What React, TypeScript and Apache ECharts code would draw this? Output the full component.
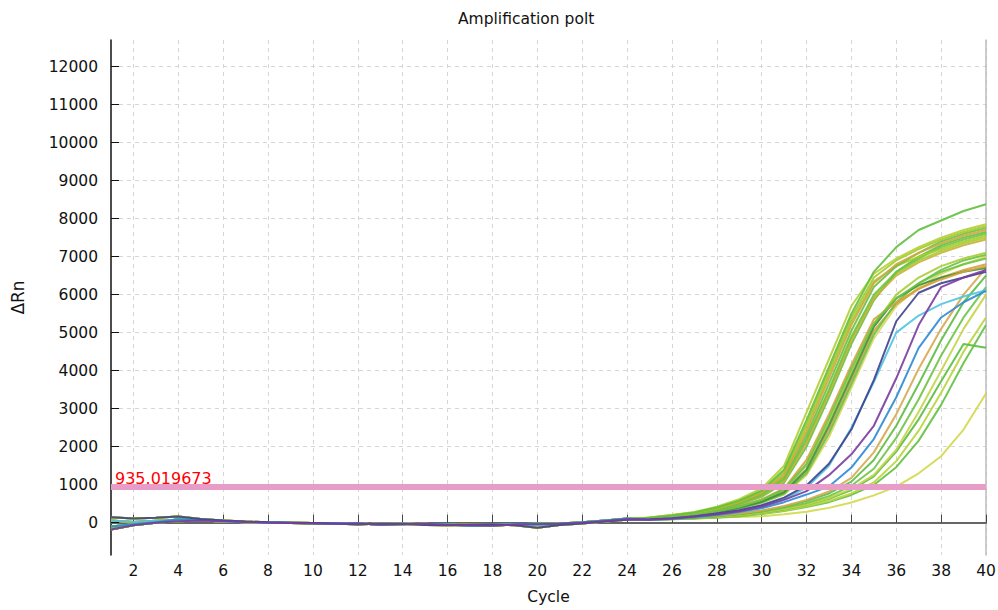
import React, { useEffect, useRef } from "react";
import * as echarts from "echarts";

const TITLE = "Amplification polt";
const X_NAME = "Cycle";
const Y_NAME = "ΔRn";
const THRESHOLD = 935.019673;
const THRESHOLD_LABEL = "935.019673";

const CYCLES = [1, 2, 3, 4, 5, 6, 7, 8, 9, 10, 11, 12, 13, 14, 15, 16, 17, 18, 19, 20, 21, 22, 23, 24, 25, 26, 27, 28, 29, 30, 31, 32, 33, 34, 35, 36, 37, 38, 39, 40];
const X_TICKS = [2, 4, 6, 8, 10, 12, 14, 16, 18, 20, 22, 24, 26, 28, 30, 32, 34, 36, 38, 40];
const Y_TICKS = [0, 1000, 2000, 3000, 4000, 5000, 6000, 7000, 8000, 9000, 10000, 11000, 12000];
const Y_MIN = -850;
const Y_MAX = 12700;

// baseline noise, cycles 1..24
const BASE_1 = [140, 110, 130, 160, 100, 60, 30, 10, 0, -10, -20, -50, -20, -30, -60, -70, -50, -40, -70, -130, -60, -20, 30, 80];
const BASE_2 = [-180, -70, 0, 40, 60, 40, 20, 0, -10, -20, -30, -20, -50, -40, -30, -60, -70, -80, -50, -40, -30, 0, 40, 90];
const BASE_3 = [60, 20, 50, 70, 60, 30, 10, 0, 0, -10, -10, -30, -40, -20, -40, -60, -70, -50, -40, -60, -40, -10, 50, 100];
const BASE_4 = [-100, -40, 10, 90, 80, 50, 20, 10, 0, -5, -20, -10, -60, -30, -40, -40, -80, -60, -40, -30, -20, 10, 60, 110];
const BASELINES = [BASE_1, BASE_2, BASE_3, BASE_4];

// cycles 25..40
const A1 = [130, 190, 270, 400, 580, 840, 1400, 2700, 4100, 5500, 6600, 7250, 7700, 7950, 8200, 8380];
const A2 = [140, 200, 280, 420, 620, 900, 1500, 2900, 4300, 5700, 6550, 6950, 7250, 7500, 7700, 7850];
const A3 = [120, 180, 260, 380, 560, 820, 1350, 2600, 4000, 5400, 6450, 6900, 7200, 7450, 7650, 7800];
const A4 = [130, 190, 260, 370, 540, 780, 1250, 2400, 3800, 5200, 6300, 6800, 7100, 7350, 7550, 7700];
const A5 = [120, 170, 240, 350, 520, 760, 1200, 2300, 3650, 5050, 6200, 6750, 7100, 7400, 7600, 7750];
const A6 = [140, 200, 270, 380, 550, 800, 1300, 2500, 3900, 5300, 6350, 6750, 7000, 7200, 7400, 7550];
const A7 = [110, 160, 230, 340, 500, 720, 1150, 2200, 3500, 4900, 6000, 6600, 6950, 7250, 7450, 7600];
const A8 = [120, 170, 240, 340, 490, 700, 1100, 2100, 3400, 4800, 5900, 6500, 6850, 7100, 7300, 7450];
const A9 = [100, 150, 220, 320, 470, 680, 1050, 2000, 3300, 4700, 5850, 6600, 7000, 7300, 7500, 7650];
const A10 = [130, 180, 250, 350, 500, 720, 1120, 2150, 3450, 4850, 5950, 6550, 6900, 7150, 7350, 7500];

const B1 = [110, 150, 210, 300, 420, 600, 880, 1550, 2750, 4050, 5250, 5900, 6300, 6600, 6800, 6950];
const B2 = [120, 160, 220, 310, 430, 610, 900, 1650, 2850, 4150, 5350, 5800, 6150, 6400, 6600, 6750];
const B3 = [100, 140, 200, 280, 390, 550, 800, 1400, 2550, 3850, 5150, 5900, 6250, 6450, 6600, 6700];
const B4 = [110, 150, 210, 290, 410, 580, 840, 1500, 2650, 3950, 5200, 6000, 6450, 6750, 6950, 7100];
const B5 = [90, 130, 190, 270, 380, 530, 760, 1300, 2350, 3650, 4950, 5800, 6300, 6650, 6900, 7050];
const B6 = [110, 150, 200, 280, 390, 540, 770, 1350, 2450, 3750, 5050, 5750, 6150, 6450, 6650, 6800];
const B7 = [100, 140, 190, 270, 370, 520, 740, 1250, 2250, 3550, 4850, 5700, 6200, 6550, 6800, 7000];

const C_NAVY = [90, 120, 170, 240, 330, 460, 660, 980, 1550, 2450, 3750, 5300, 6050, 6300, 6450, 6600];
const C_PURPLE = [80, 110, 160, 220, 300, 420, 600, 830, 1250, 1800, 2550, 3800, 5200, 6200, 6450, 6650];
const C_BLUE = [80, 100, 140, 200, 280, 380, 540, 740, 950, 1450, 2200, 3300, 4600, 5400, 5800, 6100];
const C_CYAN = [90, 120, 170, 230, 320, 440, 620, 920, 1500, 2500, 3700, 5000, 5450, 5750, 5950, 6120];

const D1 = [90, 110, 140, 180, 240, 320, 440, 600, 820, 1180, 1850, 2850, 4050, 5100, 6000, 6700];
const D2 = [90, 110, 130, 170, 230, 310, 420, 570, 770, 1080, 1650, 2550, 3650, 4800, 5800, 6500];
const D3 = [80, 100, 120, 160, 220, 290, 390, 520, 700, 970, 1420, 2230, 3250, 4400, 5400, 6200];
const D4 = [80, 100, 120, 150, 200, 270, 360, 480, 650, 890, 1260, 1920, 2920, 4000, 5100, 6000];
const D5 = [80, 100, 120, 150, 190, 260, 350, 470, 630, 860, 1220, 1870, 2720, 3720, 4700, 4600];
const D6 = [80, 90, 110, 140, 180, 240, 320, 430, 570, 770, 1060, 1620, 2420, 3420, 4500, 5400];
const D7 = [70, 90, 110, 130, 170, 230, 310, 410, 540, 730, 990, 1460, 2160, 3100, 4200, 5200];
const D8 = [100, 110, 120, 140, 150, 170, 220, 290, 390, 530, 720, 950, 1300, 1750, 2450, 3400];

const CURVES = [
  { name: "D8", color: "#d2d84a", base: 2, tail: D8 },
  { name: "D7", color: "#62c040", base: 1, tail: D7 },
  { name: "D6", color: "#b8d43c", base: 3, tail: D6 },
  { name: "D5", color: "#58bc3c", base: 0, tail: D5 },
  { name: "D4", color: "#c4d448", base: 2, tail: D4 },
  { name: "D3", color: "#6cc444", base: 1, tail: D3 },
  { name: "D2", color: "#5cbc40", base: 3, tail: D2 },
  { name: "D1", color: "#d6a850", base: 0, tail: D1 },
  { name: "B7", color: "#d8d660", base: 2, tail: B7 },
  { name: "B6", color: "#d2a440", base: 1, tail: B6 },
  { name: "B5", color: "#66c244", base: 3, tail: B5 },
  { name: "B4", color: "#a8cc34", base: 0, tail: B4 },
  { name: "B3", color: "#3e9040", base: 2, tail: B3 },
  { name: "B2", color: "#d6a23c", base: 1, tail: B2 },
  { name: "B1", color: "#6cc444", base: 3, tail: B1 },
  { name: "A10", color: "#a8cc30", base: 0, tail: A10 },
  { name: "A9", color: "#64c040", base: 1, tail: A9 },
  { name: "A8", color: "#c8b23c", base: 2, tail: A8 },
  { name: "A7", color: "#70c444", base: 3, tail: A7 },
  { name: "A6", color: "#a4cc2c", base: 0, tail: A6 },
  { name: "A5", color: "#68c240", base: 1, tail: A5 },
  { name: "A4", color: "#d0a640", base: 2, tail: A4 },
  { name: "A3", color: "#a0ca2e", base: 3, tail: A3 },
  { name: "A2", color: "#b4cf30", base: 0, tail: A2 },
  { name: "A1", color: "#60c03e", base: 1, tail: A1 },
  { name: "cyan", color: "#4cc4e0", base: 2, tail: C_CYAN },
  { name: "blue", color: "#2c8ad4", base: 3, tail: C_BLUE },
  { name: "navy", color: "#40408e", base: 0, tail: C_NAVY },
  { name: "purple", color: "#7a3c9e", base: 1, tail: C_PURPLE },
];

const FONT = "'DejaVu Sans', Verdana, sans-serif";

export default function App() {
  const ref = useRef<HTMLDivElement>(null);

  useEffect(() => {
    document.body.style.margin = "0";
    if (!ref.current) return;
    const chart = echarts.init(ref.current, null, { renderer: "svg" });

    const curveSeries = CURVES.map((c) => {
      const values = [...BASELINES[c.base], ...c.tail];
      return {
        name: c.name,
        type: "line",
        data: CYCLES.map((x, i) => [x, values[i]]),
        symbol: "none",
        lineStyle: { color: c.color, width: 2, opacity: 0.9 },
        z: 2,
      };
    });

    const thresholdSeries = {
      name: "threshold",
      type: "line",
      data: [],
      markLine: {
        silent: true,
        symbol: ["none", "none"],
        lineStyle: { color: "#e89cc8", width: 6, type: "solid", opacity: 1 },
        label: {
          show: true,
          position: "insideStartTop",
          formatter: THRESHOLD_LABEL,
          color: "#ff0000",
          fontSize: 16,
          fontFamily: FONT,
          distance: [4, 1],
        },
        data: [{ yAxis: THRESHOLD }],
      },
      z: 5,
    };

    chart.setOption({
      animation: false,
      backgroundColor: "#ffffff",
      title: {
        text: TITLE,
        left: 453,
        top: 6,
        textStyle: { fontFamily: FONT, fontSize: 15.5, fontWeight: "normal", color: "#111" },
      },
      grid: { left: 111, right: 12, top: 40, bottom: 55, containLabel: false, outerBoundsMode: "none" },
      xAxis: {
        type: "value",
        min: 1,
        max: 40,
        name: X_NAME,
        nameLocation: "middle",
        nameGap: 34,
        nameTextStyle: { fontFamily: FONT, fontSize: 15.5, color: "#111" },
        axisLine: { show: true, lineStyle: { color: "#666", width: 2 } },
        axisTick: { show: true, inside: true, length: 8, customValues: X_TICKS, lineStyle: { color: "#444" } },
        axisLabel: { customValues: X_TICKS, fontFamily: FONT, fontSize: 15.5, color: "#111", margin: 8, formatter: (v: number) => String(v) },
        splitLine: { show: true, lineStyle: { color: "#d6d6d6", type: [4, 4], width: 1 } },
      },
      yAxis: [
        {
          type: "value",
          min: Y_MIN,
          max: Y_MAX,
          name: Y_NAME,
          nameLocation: "middle",
          nameGap: 85,
          nameRotate: 90,
          nameTextStyle: { fontFamily: FONT, fontSize: 17, color: "#111" },
          axisLine: { show: true, onZero: false, lineStyle: { color: "#111", width: 1.5 } },
          axisTick: { show: true, inside: true, length: 8, customValues: Y_TICKS, lineStyle: { color: "#111" } },
          axisLabel: { customValues: Y_TICKS, fontFamily: FONT, fontSize: 15.5, color: "#111", margin: 13, formatter: (v: number) => String(v) },
          splitLine: { show: true, lineStyle: { color: "#d6d6d6", type: [4, 4], width: 1 } },
        },
        {
          type: "value",
          min: Y_MIN,
          max: Y_MAX,
          position: "right",
          axisLine: { show: true, onZero: false, lineStyle: { color: "#bcbcbc", width: 1.5 } },
          axisTick: { show: false },
          axisLabel: { show: false },
          splitLine: { show: false },
        },
      ],
      series: [...curveSeries, thresholdSeries],
    });

    return () => chart.dispose();
  }, []);

  return <div ref={ref} style={{ position: "absolute", left: 0, top: 0, width: 998, height: 610 }} />;
}
